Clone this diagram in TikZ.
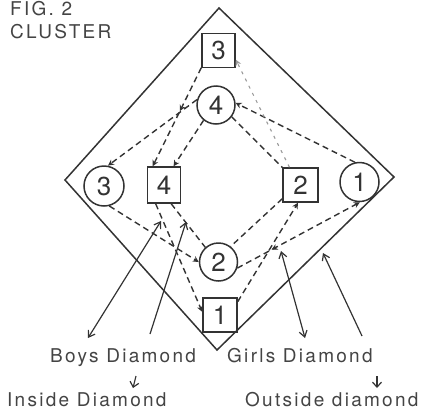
\documentclass[tikz,border=0pt]{standalone}
\usepackage{fontspec}
\setmainfont{TeX Gyre Heros}
\newfontfamily\lblfamily[LetterSpace=12]{TeX Gyre Heros}
\usetikzlibrary{arrows.meta,decorations.markings}
\definecolor{ink}{HTML}{333333}
\definecolor{txt}{HTML}{444444}
\definecolor{faint}{HTML}{9A9A9A}
\newcommand{\dgfont}{\fontsize{26}{26}\selectfont}
\newcommand{\lblfont}{\lblfamily\fontsize{19}{22}\selectfont}
\begin{document}
\begin{tikzpicture}[x=1pt,y=-1pt,
  >={Straight Barb[length=6pt,width=8pt]},
  sq/.style={draw=ink,line width=1.5pt,minimum width=33pt,minimum height=34pt,inner sep=0pt,font=\dgfont,text=ink},
  ci/.style={draw=ink,line width=1.5pt,circle,minimum size=38pt,inner sep=0pt,font=\dgfont,text=ink},
  dline/.style={draw=ink,line width=1.4pt,dash pattern=on 6pt off 4pt},
  fline/.style={draw=faint,line width=1.1pt,dash pattern=on 3pt off 5pt},
  tipend/.style={-{Stealth[length=6pt,width=6pt]}},
  midtip/.style={postaction={decorate},decoration={markings,mark=at position #1 with {\arrow{Stealth[length=6pt,width=6pt]}}}},
  midback/.style={postaction={decorate},decoration={markings,mark=at position #1 with {\arrowreversed{Stealth[length=6pt,width=6pt]}}}},
  sarrow/.style={draw=ink,line width=1.2pt},
  smallarrow/.style={draw=ink,line width=1.2pt,->,>={Straight Barb[length=5pt,width=9pt]}},
  lbl/.style={font=\lblfont,text=txt,inner sep=0pt,anchor=base west},
  frame/.style={draw=ink,line width=1.5pt}
]
\useasboundingbox (0,0) rectangle (433,410);

% diamond field
\coordinate (dt) at (219,8);
\coordinate (dr) at (394,177);
\coordinate (db) at (217,350);
\coordinate (dl) at (65,180);
\draw[frame] (dt) -- (dr) -- (db) -- (dl) -- cycle;

% positions
\node[sq] (s3) at (218.5,50.5) {3};
\node[ci] (c4) at (216,105) {4};
\node[ci,minimum size=40pt] (c3) at (104,186) {3};
\node[sq,minimum height=36pt] (s4) at (164,185) {4};
\node[sq,minimum width=35pt] (s2) at (300.5,185) {2};
\node[ci,minimum size=39pt] (c1) at (359.5,182) {1};
\node[ci] (c2) at (218.5,262) {2};
\node[sq,minimum width=34pt] (s1) at (220,315) {1};

% dashed paths
\draw[dline,tipend,midtip=0.44] (s3.-135) -- (s4.121);
\draw[dline,tipend] (c4.164) -- (c3.79);
\draw[dline,tipend] (c4.-129) -- (s4.63);
\draw[dline,tipend] (c1.103) -- (c4.6);
\draw[dline] (c4.-37) -- (s2.136);
\draw[fline,-{Stealth[length=6pt,width=6pt]},faint] (s2.122) -- (s3.-28);
\draw[dline] (s2.-143) -- (c2.52);
\draw[dline,tipend] (s1.37) -- (s2.-98);
\draw[dline,tipend,midback=0.28] (c2.-18) -- (c1.-89);
\draw[dline,tipend] (c3.-75) -- (c2.180);
\draw[dline,tipend] (s4.-114) -- (s1.170);
\draw[dline] (s4.-69) -- (c2.132);

% pointer arrows
\coordinate (a1) at (88,338);
\coordinate (a2) at (161,221);
\coordinate (b1) at (150,334);
\coordinate (b2) at (186,222);
\coordinate (g1) at (305,338);
\coordinate (g2) at (281,251);
\coordinate (h1) at (362,336);
\coordinate (h2) at (323,253);
\draw[sarrow,<->] (a1) -- (a2);
\draw[sarrow,->] (b1) -- (b2);
\draw[sarrow,<->] (g1) -- (g2);
\draw[sarrow,->] (h1) -- (h2);

% labels
\node[lbl] (fig) at (10,15) {FIG. 2};
\node[lbl] (clu) at (10,38) {CLUSTER};
\node[lbl] (boys) at (50,362) {Boys Diamond};
\node[lbl] (girls) at (227,362) {Girls Diamond};
\node[lbl] (ins) at (7,406) {Inside Diamond};
\node[lbl] (outs) at (245,406) {Outside diamond};

\coordinate (i1) at (136,376);
\coordinate (i2) at (133,388);
\coordinate (o1) at (377,376);
\coordinate (o2) at (377,388);
\draw[smallarrow] (i1) -- (i2);
\draw[smallarrow] (o1) -- (o2);
\end{tikzpicture}
\end{document}
